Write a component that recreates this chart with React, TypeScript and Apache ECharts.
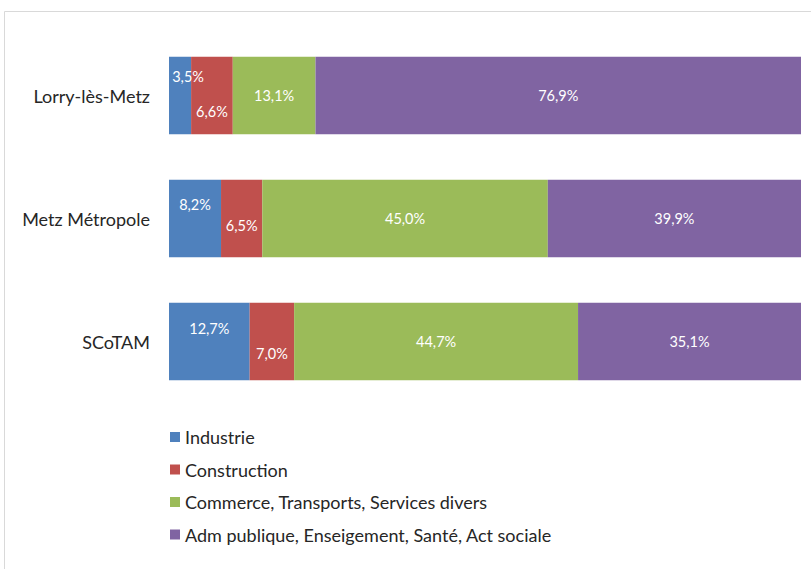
import React, { useEffect, useRef } from "react";
import * as echarts from "echarts";

const categories = ["Lorry-lès-Metz", "Metz Métropole", "SCoTAM"];
const seriesNames = [
  "Industrie",
  "Construction",
  "Commerce, Transports, Services divers",
  "Adm publique, Enseigement, Santé, Act sociale",
];
const industrie = [3.5, 8.2, 12.7];
const construction = [6.6, 6.5, 7.0];
const commerce = [13.1, 45.0, 44.7];
const admin = [76.9, 39.9, 35.1];

const colors = ["#4F81BD", "#C0504D", "#9BBB59", "#8064A2"];
const FONT = "Lato, 'Open Sans', sans-serif";

export default function App() {
  const ref = useRef<HTMLDivElement>(null);
  useEffect(() => {
    if (!ref.current) return;
    const chart = echarts.init(ref.current, undefined, { renderer: "svg" });
    const all = [industrie, construction, commerce, admin];
    const totals = categories.map((_, i) => all.reduce((s, arr) => s + arr[i], 0));
    // label offsets for small segments (as in the original)
    const offsets: number[][][] = [
      [[8, -19], [0, -14], [0, -13]],
      [[0, 16], [0, 7], [0, 12]],
      [[0, 0], [0, 0], [0, 0]],
      [[0, 0], [0, 0], [0, 0]],
    ];
    const series = all.map((arr, si) => ({
      name: seriesNames[si],
      type: "bar",
      stack: "total",
      barCategoryGap: "37%",
      itemStyle: { color: colors[si] },
      data: arr.map((v, i) => ({
        value: (v / totals[i]) * 100,
        raw: v,
        label: { offset: offsets[si][i] },
      })),
      label: {
        show: true,
        position: "inside",
        color: "#ffffff",
        fontFamily: FONT,
        fontSize: 14.5,
        formatter: (p: any) => p.data.raw.toFixed(1).replace(".", ",") + "%",
      },
    }));
    chart.setOption({
      animation: false,
      textStyle: { fontFamily: FONT },
      grid: { left: 169, right: 10, top: 34, bottom: 166 },
      xAxis: {
        type: "value",
        min: 0,
        max: 100,
        show: false,
      },
      yAxis: {
        type: "category",
        data: categories,
        inverse: true,
        axisLine: { show: false },
        axisTick: { show: false },
        axisLabel: { color: "#262626", fontSize: 18, fontFamily: FONT, margin: 19 },
      },
      legend: {
        orient: "vertical",
        left: 170,
        top: 427,
        padding: 0,
        itemWidth: 10,
        itemHeight: 10,
        itemGap: 12.5,
        icon: "rect",
        data: seriesNames,
        textStyle: { color: "#262626", fontSize: 18, fontFamily: FONT, lineHeight: 20 },
      },
      graphic: [
        {
          type: "rect",
          shape: { x: 4.5, y: 11.5, width: 900, height: 700 },
          style: { fill: "none", stroke: "#d9d9d9", lineWidth: 1 },
          silent: true,
        },
      ],
      series,
    });
    return () => chart.dispose();
  }, []);
  return (
    <div
      ref={ref}
      style={{ position: "absolute", left: 0, top: 0, width: 811, height: 569, background: "#fff" }}
    />
  );
}
